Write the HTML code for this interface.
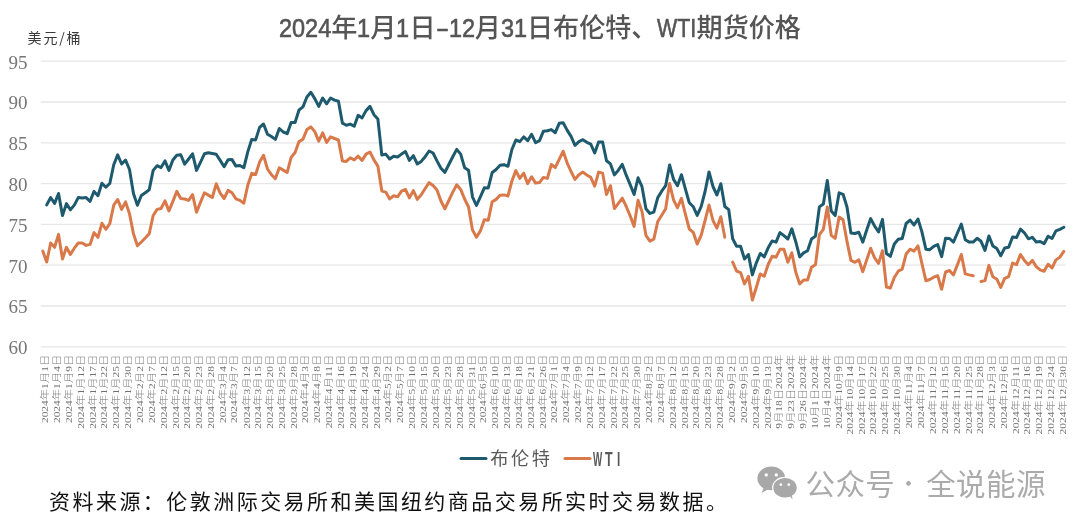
<!DOCTYPE html>
<html><head><meta charset="utf-8"><style>
html,body{margin:0;padding:0;background:#fff;}
body{width:1080px;height:527px;position:relative;overflow:hidden;}
.t{position:absolute;left:0;width:1080px;top:15.0px;text-align:center;font-family:"Liberation Sans","Noto Sans CJK SC",sans-serif;font-size:26.1px;color:#555555;font-weight:500;letter-spacing:0px;line-height:1;white-space:nowrap;}
.unit{position:absolute;left:27.6px;top:29.5px;font-family:"Noto Sans CJK SC",sans-serif;font-weight:400;font-size:14px;color:#3a3a3a;line-height:1;white-space:nowrap;letter-spacing:1.8px;}
.yl{position:absolute;right:1052.6px;font-family:"Liberation Serif",serif;font-size:19px;color:#767676;line-height:1;transform:translateY(-50%);}
.xl{position:absolute;top:354.3px;width:0;height:0;}
.xl{font-family:"Liberation Serif","Noto Sans CJK SC",serif;font-weight:300;font-size:11.4px;color:#707070;line-height:1;white-space:nowrap;}
.xl span{position:absolute;right:0;top:-0.5em;transform-origin:100% 50%;transform:rotate(-90deg) scaleY(0.78);}
.leg{position:absolute;top:450.2px;font-family:"Liberation Sans","Noto Sans CJK SC",sans-serif;font-size:18.2px;color:#595959;line-height:1;white-space:nowrap;}
.foot{position:absolute;left:49px;top:490px;font-family:"Noto Sans CJK SC",sans-serif;font-weight:400;font-size:21px;color:#111;letter-spacing:2.46px;line-height:1;white-space:nowrap;}
.wm{position:absolute;left:805.5px;top:467.5px;font-family:"Noto Sans CJK SC",sans-serif;font-size:29.5px;color:#ababab;letter-spacing:0.4px;line-height:1;white-space:nowrap;font-weight:400;}
svg{position:absolute;left:0;top:0;}
.hw{display:inline-block;transform-origin:0 0;font-weight:400;-webkit-text-stroke:0.6px currentColor;}
</style></head><body>
<div class="t"><span class="hw" style="transform:scaleX(0.899);margin-right:-5.86px">2024</span>年<span class="hw" style="transform:scaleX(0.899);margin-right:-1.47px">1</span>月<span class="hw" style="transform:scaleX(0.899);margin-right:-1.47px">1</span>日<span class="hw" style="transform:scaleX(1.501);margin-right:4.36px">-</span><span class="hw" style="transform:scaleX(0.899);margin-right:-2.93px">12</span>月<span class="hw" style="transform:scaleX(0.899);margin-right:-2.93px">31</span>日布伦特、<span class="hw" style="transform:scaleX(0.819);margin-right:-8.68px">WTI</span>期货价格</div>
<div class="unit">美元/桶</div>
<div class="yl" style="top:61.5px">95</div><div class="yl" style="top:102.3px">90</div><div class="yl" style="top:143.1px">85</div><div class="yl" style="top:183.9px">80</div><div class="yl" style="top:224.7px">75</div><div class="yl" style="top:265.5px">70</div><div class="yl" style="top:306.3px">65</div><div class="yl" style="top:347.1px">60</div>
<svg width="1080" height="527" viewBox="0 0 1080 527"><g stroke="#e6e6e6" stroke-width="1.3" fill="none"><line x1="40.8" y1="61.2" x2="1065.8" y2="61.2"/><line x1="40.8" y1="102.0" x2="1065.8" y2="102.0"/><line x1="40.8" y1="142.8" x2="1065.8" y2="142.8"/><line x1="40.8" y1="183.6" x2="1065.8" y2="183.6"/><line x1="40.8" y1="224.4" x2="1065.8" y2="224.4"/><line x1="40.8" y1="265.2" x2="1065.8" y2="265.2"/><line x1="40.8" y1="306.0" x2="1065.8" y2="306.0"/><line x1="40.8" y1="346.8" x2="1065.8" y2="346.8"/></g><path d="M42.77 251.1 L46.71 262.0 L50.66 243.0 L54.60 247.3 L58.54 234.4 L62.48 259.1 L66.42 247.3 L70.37 254.4 L74.31 248.2 L78.25 243.0 L82.19 243.0 L86.14 245.4 L90.08 244.4 L94.02 232.6 L97.96 237.3 L101.91 223.3 L105.85 229.3 L109.79 223.6 L113.73 205.2 L117.67 199.5 L121.62 209.4 L125.56 201.9 L129.50 213.7 L133.44 233.6 L137.39 245.7 L141.33 242.0 L145.27 238.0 L149.21 233.8 L153.16 215.5 L157.10 209.4 L161.04 208.5 L164.98 200.9 L168.93 210.9 L172.87 201.4 L176.81 191.4 L180.75 198.5 L184.69 199.0 L188.64 200.4 L192.58 194.7 L196.52 212.2 L200.46 202.4 L204.41 192.8 L208.35 195.1 L212.29 197.5 L216.23 183.8 L220.18 193.2 L224.12 198.5 L228.06 190.4 L232.00 192.8 L235.94 198.9 L239.89 200.4 L243.83 203.2 L247.77 185.2 L251.71 173.4 L255.66 174.5 L259.60 162.1 L263.54 155.3 L267.48 169.0 L271.43 174.7 L275.37 178.6 L279.31 167.8 L283.25 170.1 L287.19 172.4 L291.14 157.4 L295.08 152.5 L299.02 141.6 L302.96 139.2 L306.91 129.6 L310.85 126.9 L314.79 131.6 L318.73 141.1 L322.68 132.9 L326.62 142.5 L330.56 136.9 L334.50 138.5 L338.44 140.0 L342.39 160.9 L346.33 161.4 L350.27 157.8 L354.21 159.9 L358.16 156.2 L362.10 160.4 L366.04 154.1 L369.98 152.0 L373.93 159.9 L377.87 166.1 L381.81 191.1 L385.75 192.1 L389.69 198.9 L393.64 195.8 L397.58 196.8 L401.52 191.1 L405.46 189.5 L409.41 197.9 L413.35 190.6 L417.29 199.4 L421.23 194.7 L425.18 188.5 L429.12 182.7 L433.06 185.4 L437.00 190.0 L440.94 201.0 L444.89 208.8 L448.83 200.5 L452.77 192.1 L456.71 184.8 L460.66 189.4 L464.60 199.0 L468.54 207.0 L472.48 229.9 L476.43 237.2 L480.37 230.9 L484.31 219.7 L488.25 220.3 L492.19 201.7 L496.14 199.4 L500.08 195.2 L504.02 194.9 L507.96 196.0 L511.91 181.0 L515.85 170.6 L519.79 178.4 L523.73 173.2 L527.67 183.6 L531.62 176.8 L535.56 183.1 L539.50 182.6 L543.44 177.4 L547.39 178.4 L551.33 164.5 L555.27 167.5 L559.21 159.4 L563.16 151.2 L567.10 162.8 L571.04 171.5 L574.98 179.4 L578.92 174.7 L582.87 172.1 L586.81 175.0 L590.75 177.3 L594.69 186.2 L598.64 172.1 L602.58 173.1 L606.52 194.5 L610.46 185.7 L614.41 208.6 L618.35 203.4 L622.29 198.2 L626.23 206.5 L630.17 215.9 L634.12 226.4 L638.06 200.2 L642.00 211.5 L645.94 235.4 L649.89 241.1 L653.83 239.2 L657.77 221.5 L661.71 215.3 L665.66 208.8 L669.60 183.6 L673.54 199.9 L677.48 207.8 L681.42 198.3 L685.37 214.2 L689.31 229.0 L693.25 232.3 L697.19 244.0 L701.14 235.4 L705.08 220.5 L709.02 205.0 L712.96 220.5 L716.91 228.1 L720.85 216.7 L724.79 237.2 M732.67 262.1 L736.62 271.1 L740.56 272.6 L744.50 283.9 L748.44 276.3 L752.39 300.1 L756.33 287.3 L760.27 274.0 L764.21 276.3 L768.16 264.5 L772.10 256.3 L776.04 257.2 L779.98 249.3 L783.92 249.3 L787.87 262.2 L791.81 252.7 L795.75 272.1 L799.69 283.9 L803.64 280.0 L807.58 280.0 L811.52 267.2 L815.46 264.7 L819.41 234.6 L823.35 229.3 L827.29 206.9 L831.23 235.4 L835.17 238.4 L839.12 217.1 L843.06 219.8 L847.00 241.4 L850.94 260.4 L854.89 262.3 L858.83 259.9 L862.77 271.8 L866.71 259.9 L870.66 248.2 L874.60 257.9 L878.54 263.4 L882.48 250.7 L886.42 287.0 L890.37 288.1 L894.31 277.5 L898.25 271.2 L902.19 269.2 L906.14 254.0 L910.08 249.2 L914.02 251.1 L917.96 245.9 L921.91 263.5 L925.85 280.7 L929.79 279.5 L933.73 277.2 L937.67 275.7 L941.62 289.3 L945.56 272.0 L949.50 270.5 L953.44 274.9 L957.39 264.9 L961.33 254.5 L965.27 273.9 L969.21 274.9 L973.16 275.8 M981.04 281.5 L984.98 280.6 L988.92 265.4 L992.87 276.8 L996.81 279.2 L1000.75 287.4 L1004.69 278.4 L1008.64 276.7 L1012.58 263.1 L1016.52 264.6 L1020.46 254.5 L1024.41 260.4 L1028.35 264.7 L1032.29 260.4 L1036.23 266.6 L1040.17 269.9 L1044.12 271.3 L1048.06 264.2 L1052.00 268.0 L1055.94 259.9 L1059.89 257.1 L1063.83 251.4" fill="none" stroke="#d9794a" stroke-width="3.0" stroke-linejoin="round" stroke-linecap="round"/><path d="M46.71 204.9 L50.66 197.5 L54.60 203.4 L58.54 193.5 L62.48 215.6 L66.42 203.6 L70.37 209.8 L74.31 205.1 L78.25 197.6 L82.19 198.0 L86.14 197.6 L90.08 201.3 L94.02 191.4 L97.96 195.7 L101.91 183.2 L105.85 187.2 L109.79 183.5 L113.73 164.8 L117.67 154.9 L121.62 164.0 L125.56 160.2 L129.50 169.5 L133.44 193.6 L137.39 205.3 L141.33 195.5 L145.27 192.7 L149.21 189.8 L153.16 170.4 L157.10 165.7 L161.04 167.6 L164.98 160.9 L168.93 170.4 L172.87 160.0 L176.81 155.2 L180.75 154.7 L184.69 164.2 L188.64 159.0 L192.58 153.8 L196.52 170.4 L200.46 162.3 L204.41 153.8 L208.35 152.8 L212.29 153.5 L216.23 154.2 L220.18 160.4 L224.12 166.7 L228.06 159.8 L232.00 159.6 L235.94 166.1 L239.89 165.5 L243.83 167.8 L247.77 151.9 L251.71 139.4 L255.66 139.9 L259.60 127.4 L263.54 124.0 L267.48 134.2 L271.43 136.5 L275.37 139.4 L279.31 128.5 L283.25 132.0 L287.19 133.7 L291.14 122.4 L295.08 122.5 L299.02 110.0 L302.96 106.9 L306.91 97.0 L310.85 92.3 L314.79 98.6 L318.73 106.4 L322.68 98.0 L326.62 103.8 L330.56 98.0 L334.50 100.1 L338.44 101.2 L342.39 123.1 L346.33 125.2 L350.27 124.1 L354.21 126.2 L358.16 115.3 L362.10 117.9 L366.04 110.6 L369.98 106.4 L373.93 114.7 L377.87 119.0 L381.81 155.0 L385.75 154.1 L389.69 159.0 L393.64 156.2 L397.58 157.0 L401.52 154.1 L405.46 151.5 L409.41 160.4 L413.35 155.7 L417.29 164.0 L421.23 161.4 L425.18 156.7 L429.12 151.0 L433.06 153.0 L437.00 160.9 L440.94 168.2 L444.89 172.4 L448.83 164.5 L452.77 156.7 L456.71 149.4 L460.66 154.1 L464.60 167.7 L468.54 170.3 L472.48 196.8 L476.43 205.5 L480.37 196.8 L484.31 187.8 L488.25 188.0 L492.19 172.5 L496.14 169.5 L500.08 165.3 L504.02 164.7 L507.96 166.3 L511.91 149.5 L515.85 140.0 L519.79 141.6 L523.73 136.9 L527.67 140.6 L531.62 134.3 L535.56 142.7 L539.50 140.6 L543.44 131.2 L547.39 130.7 L551.33 129.6 L555.27 132.7 L559.21 123.3 L563.16 122.8 L567.10 130.1 L571.04 136.4 L574.98 145.3 L578.92 141.6 L582.87 139.7 L586.81 142.3 L590.75 144.1 L594.69 153.0 L598.64 142.0 L602.58 142.0 L606.52 160.8 L610.46 163.9 L614.41 174.9 L618.35 170.2 L622.29 164.4 L626.23 175.2 L630.17 184.6 L634.12 194.5 L638.06 177.8 L642.00 186.7 L645.94 208.8 L649.89 213.4 L653.83 212.1 L657.77 197.6 L661.71 191.2 L665.66 185.7 L669.60 165.0 L673.54 179.4 L677.48 185.7 L681.42 174.7 L685.37 188.8 L689.31 202.8 L693.25 206.7 L697.19 215.4 L701.14 206.7 L705.08 191.5 L709.02 171.9 L712.96 186.5 L716.91 195.0 L720.85 183.7 L724.79 206.5 L728.73 209.7 L732.67 238.7 L736.62 246.3 L740.56 246.3 L744.50 259.0 L748.44 254.5 L752.39 274.9 L756.33 262.8 L760.27 253.5 L764.21 256.9 L768.16 247.8 L772.10 240.9 L776.04 242.1 L779.98 232.6 L783.92 235.6 L787.87 239.0 L791.81 228.8 L795.75 241.7 L799.69 256.9 L803.64 252.9 L807.58 250.8 L811.52 239.0 L815.46 236.1 L819.41 206.9 L823.35 204.0 L827.29 180.5 L831.23 211.1 L835.17 215.6 L839.12 192.8 L843.06 194.3 L847.00 207.0 L850.94 233.1 L854.89 233.5 L858.83 232.3 L862.77 242.2 L866.71 230.0 L870.66 218.6 L874.60 226.0 L878.54 232.0 L882.48 219.4 L886.42 253.5 L890.37 256.3 L894.31 244.0 L898.25 239.3 L902.19 238.5 L906.14 223.5 L910.08 220.1 L914.02 225.0 L917.96 219.0 L921.91 231.9 L925.85 249.2 L929.79 249.7 L933.73 246.4 L937.67 244.5 L941.62 256.6 L945.56 238.3 L949.50 238.5 L953.44 242.1 L957.39 233.0 L961.33 224.0 L965.27 239.8 L969.21 242.1 L973.16 242.1 L977.10 238.3 L981.04 241.3 L984.98 250.4 L988.92 236.0 L992.87 245.9 L996.81 248.5 L1000.75 255.7 L1004.69 248.0 L1008.64 247.2 L1012.58 237.0 L1016.52 237.6 L1020.46 229.1 L1024.41 232.8 L1028.35 238.8 L1032.29 237.3 L1036.23 241.9 L1040.17 241.5 L1044.12 243.8 L1048.06 236.2 L1052.00 238.5 L1055.94 230.9 L1059.89 229.4 L1063.83 227.3" fill="none" stroke="#1e5a6e" stroke-width="3.0" stroke-linejoin="round" stroke-linecap="round"/><line x1="461" y1="458.5" x2="486" y2="458.5" stroke="#1e5a6e" stroke-width="3" stroke-linecap="round"/><line x1="565" y1="458.5" x2="590" y2="458.5" stroke="#d9794a" stroke-width="3" stroke-linecap="round"/><g fill="#a8a8a8"><ellipse cx="771.3" cy="478.3" rx="13.9" ry="11.9"/><path d="M764 487 L761.5 493 L769.5 488.5 Z"/><ellipse cx="785" cy="487.7" rx="12.9" ry="11" fill="#fff"/><ellipse cx="785" cy="487.7" rx="11.7" ry="9.8"/><path d="M789 495 L792.5 499.5 L791.8 493.5 Z"/></g><g fill="#fff"><circle cx="766.3" cy="474.9" r="1.7"/><circle cx="776.3" cy="474.9" r="1.7"/><circle cx="780.8" cy="484.7" r="1.4"/><circle cx="788.8" cy="484.7" r="1.4"/></g></svg>
<div class="xlw"><div class="xl" style="left:45.32px"><span>2024年1月1日</span></div><div class="xl" style="left:57.16px"><span>2024年1月4日</span></div><div class="xl" style="left:69.00px"><span>2024年1月9日</span></div><div class="xl" style="left:80.84px"><span>2024年1月12日</span></div><div class="xl" style="left:92.68px"><span>2024年1月17日</span></div><div class="xl" style="left:104.52px"><span>2024年1月22日</span></div><div class="xl" style="left:116.36px"><span>2024年1月25日</span></div><div class="xl" style="left:128.20px"><span>2024年1月30日</span></div><div class="xl" style="left:140.04px"><span>2024年2月2日</span></div><div class="xl" style="left:151.88px"><span>2024年2月7日</span></div><div class="xl" style="left:163.72px"><span>2024年2月12日</span></div><div class="xl" style="left:175.56px"><span>2024年2月15日</span></div><div class="xl" style="left:187.40px"><span>2024年2月20日</span></div><div class="xl" style="left:199.24px"><span>2024年2月23日</span></div><div class="xl" style="left:211.08px"><span>2024年2月28日</span></div><div class="xl" style="left:222.92px"><span>2024年3月4日</span></div><div class="xl" style="left:234.76px"><span>2024年3月7日</span></div><div class="xl" style="left:246.60px"><span>2024年3月12日</span></div><div class="xl" style="left:258.44px"><span>2024年3月15日</span></div><div class="xl" style="left:270.28px"><span>2024年3月20日</span></div><div class="xl" style="left:282.12px"><span>2024年3月25日</span></div><div class="xl" style="left:293.96px"><span>2024年3月28日</span></div><div class="xl" style="left:305.80px"><span>2024年4月3日</span></div><div class="xl" style="left:317.64px"><span>2024年4月8日</span></div><div class="xl" style="left:329.48px"><span>2024年4月11日</span></div><div class="xl" style="left:341.32px"><span>2024年4月16日</span></div><div class="xl" style="left:353.16px"><span>2024年4月19日</span></div><div class="xl" style="left:365.00px"><span>2024年4月24日</span></div><div class="xl" style="left:376.84px"><span>2024年4月29日</span></div><div class="xl" style="left:388.68px"><span>2024年5月2日</span></div><div class="xl" style="left:400.52px"><span>2024年5月7日</span></div><div class="xl" style="left:412.36px"><span>2024年5月10日</span></div><div class="xl" style="left:424.20px"><span>2024年5月15日</span></div><div class="xl" style="left:436.04px"><span>2024年5月20日</span></div><div class="xl" style="left:447.88px"><span>2024年5月23日</span></div><div class="xl" style="left:459.72px"><span>2024年5月28日</span></div><div class="xl" style="left:471.56px"><span>2024年5月31日</span></div><div class="xl" style="left:483.40px"><span>2024年6月5日</span></div><div class="xl" style="left:495.24px"><span>2024年6月10日</span></div><div class="xl" style="left:507.08px"><span>2024年6月13日</span></div><div class="xl" style="left:518.92px"><span>2024年6月18日</span></div><div class="xl" style="left:530.76px"><span>2024年6月21日</span></div><div class="xl" style="left:542.60px"><span>2024年6月26日</span></div><div class="xl" style="left:554.44px"><span>2024年7月1日</span></div><div class="xl" style="left:566.28px"><span>2024年7月4日</span></div><div class="xl" style="left:578.12px"><span>2024年7月9日</span></div><div class="xl" style="left:589.96px"><span>2024年7月12日</span></div><div class="xl" style="left:601.80px"><span>2024年7月17日</span></div><div class="xl" style="left:613.64px"><span>2024年7月22日</span></div><div class="xl" style="left:625.48px"><span>2024年7月25日</span></div><div class="xl" style="left:637.32px"><span>2024年7月30日</span></div><div class="xl" style="left:649.16px"><span>2024年8月2日</span></div><div class="xl" style="left:661.00px"><span>2024年8月7日</span></div><div class="xl" style="left:672.84px"><span>2024年8月12日</span></div><div class="xl" style="left:684.68px"><span>2024年8月15日</span></div><div class="xl" style="left:696.52px"><span>2024年8月20日</span></div><div class="xl" style="left:708.36px"><span>2024年8月23日</span></div><div class="xl" style="left:720.20px"><span>2024年8月28日</span></div><div class="xl" style="left:732.04px"><span>2024年9月2日</span></div><div class="xl" style="left:743.88px"><span>2024年9月5日</span></div><div class="xl" style="left:755.72px"><span>2024年9月10日</span></div><div class="xl" style="left:767.56px"><span>2024年9月13日</span></div><div class="xl" style="left:779.40px"><span>9月18日2024年</span></div><div class="xl" style="left:791.24px"><span>9月23日2024年</span></div><div class="xl" style="left:803.08px"><span>9月26日2024年</span></div><div class="xl" style="left:814.92px"><span>10月1日2024年</span></div><div class="xl" style="left:826.76px"><span>10月4日2024年</span></div><div class="xl" style="left:838.60px"><span>2024年10月9日</span></div><div class="xl" style="left:850.44px"><span>2024年10月14日</span></div><div class="xl" style="left:862.28px"><span>2024年10月17日</span></div><div class="xl" style="left:874.12px"><span>2024年10月22日</span></div><div class="xl" style="left:885.96px"><span>2024年10月25日</span></div><div class="xl" style="left:897.80px"><span>2024年10月30日</span></div><div class="xl" style="left:909.64px"><span>2024年11月4日</span></div><div class="xl" style="left:921.48px"><span>2024年11月7日</span></div><div class="xl" style="left:933.32px"><span>2024年11月12日</span></div><div class="xl" style="left:945.16px"><span>2024年11月15日</span></div><div class="xl" style="left:957.00px"><span>2024年11月20日</span></div><div class="xl" style="left:968.84px"><span>2024年11月25日</span></div><div class="xl" style="left:980.68px"><span>2024年11月28日</span></div><div class="xl" style="left:992.52px"><span>2024年12月3日</span></div><div class="xl" style="left:1004.36px"><span>2024年12月6日</span></div><div class="xl" style="left:1016.20px"><span>2024年12月11日</span></div><div class="xl" style="left:1028.04px"><span>2024年12月16日</span></div><div class="xl" style="left:1039.88px"><span>2024年12月19日</span></div><div class="xl" style="left:1051.72px"><span>2024年12月24日</span></div><div class="xl" style="left:1063.56px"><span>2024年12月30日</span></div></div>
<div class="leg" style="left:490.2px;letter-spacing:2.6px">布伦特</div><div class="leg" style="left:593.0px;top:450.3px;font-size:19.5px;font-weight:bold;transform-origin:0 0;transform:scaleX(0.5)">W</div><div class="leg" style="left:604.6px;top:450.3px;font-size:19.5px;font-weight:bold;transform-origin:0 0;transform:scaleX(0.64)">T</div><div class="leg" style="left:617.3000000000001px;top:450.3px;font-size:19.5px;font-weight:bold;transform-origin:0 0;transform:scaleX(0.6)">I</div>
<div class="foot">资料来源：伦敦洲际交易所和美国纽约商品交易所实时交易数据。</div>
<div class="wm">公众号</div><div class="wm" style="left:897.4px;top:469.8px;font-size:22px">·</div><div class="wm" style="left:926.2px">全说能源</div>
</body></html>
